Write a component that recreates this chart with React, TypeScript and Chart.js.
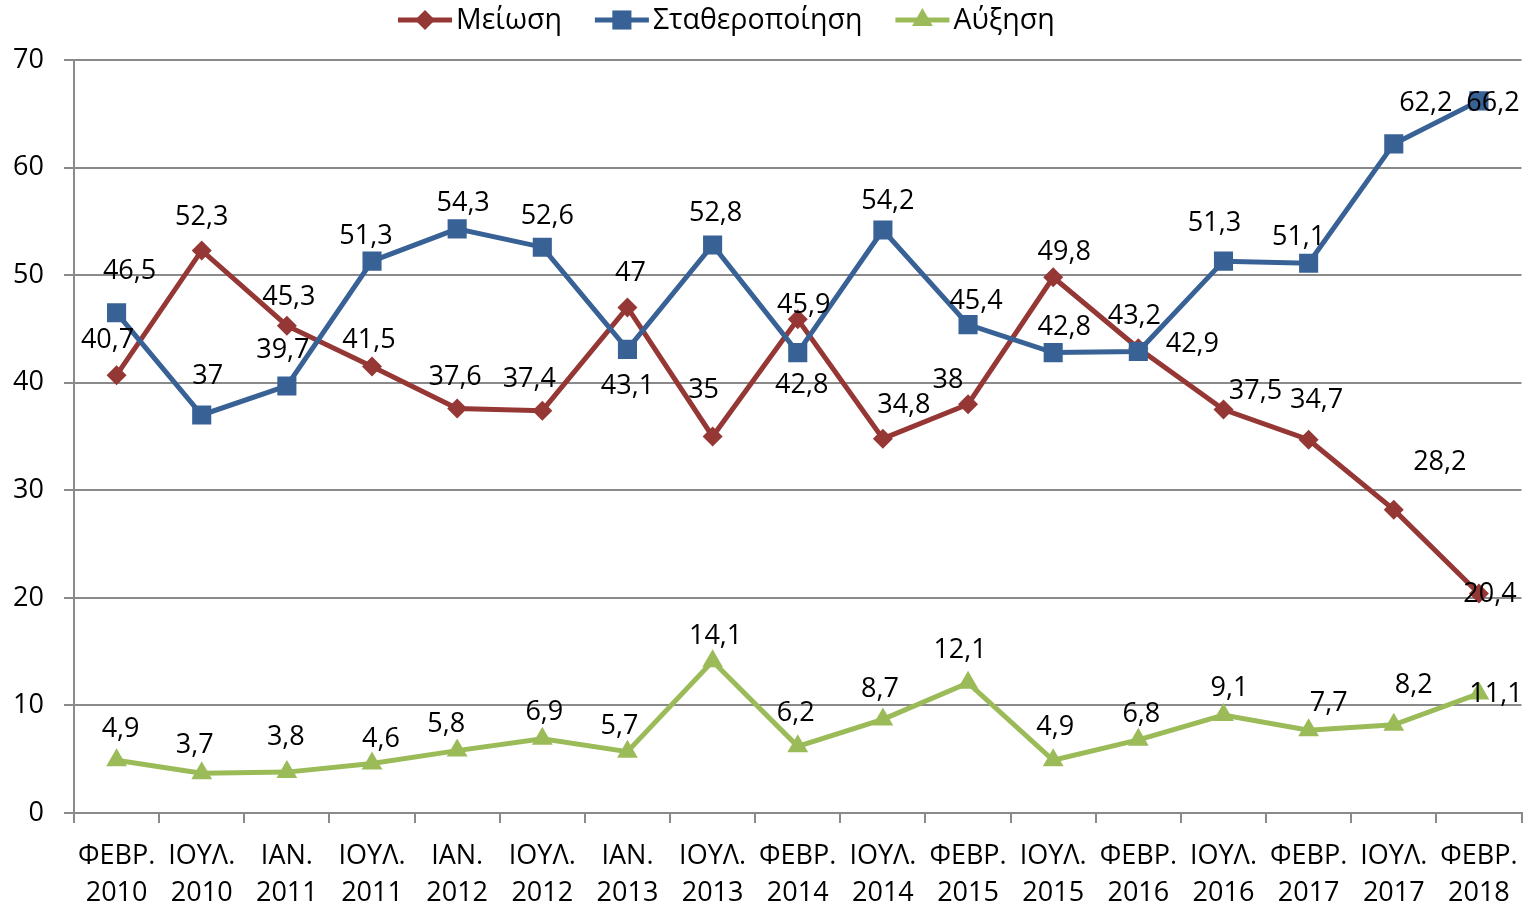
import React, { useEffect, useRef } from "react";
import { Chart, registerables } from "chart.js";

Chart.register(...registerables);

// ---- data ----
const categories: string[][] = [
  ["ΦΕΒΡ.", "2010"], ["ΙΟΥΛ.", "2010"], ["ΙΑΝ.", "2011"], ["ΙΟΥΛ.", "2011"],
  ["ΙΑΝ.", "2012"], ["ΙΟΥΛ.", "2012"], ["ΙΑΝ.", "2013"], ["ΙΟΥΛ.", "2013"],
  ["ΦΕΒΡ.", "2014"], ["ΙΟΥΛ.", "2014"], ["ΦΕΒΡ.", "2015"], ["ΙΟΥΛ.", "2015"],
  ["ΦΕΒΡ.", "2016"], ["ΙΟΥΛ.", "2016"], ["ΦΕΒΡ.", "2017"], ["ΙΟΥΛ.", "2017"],
  ["ΦΕΒΡ.", "2018"],
];

const seriesNames = ["Μείωση", "Σταθεροποίηση", "Αύξηση"];

const meiosi = [40.7, 52.3, 45.3, 41.5, 37.6, 37.4, 47, 35, 45.9, 34.8, 38, 49.8, 43.2, 37.5, 34.7, 28.2, 20.4];
const statheropoiisi = [46.5, 37, 39.7, 51.3, 54.3, 52.6, 43.1, 52.8, 42.8, 54.2, 45.4, 42.8, 42.9, 51.3, 51.1, 62.2, 66.2];
const afxisi = [4.9, 3.7, 3.8, 4.6, 5.8, 6.9, 5.7, 14.1, 6.2, 8.7, 12.1, 4.9, 6.8, 9.1, 7.7, 8.2, 11.1];

const yTicks = [0, 10, 20, 30, 40, 50, 60, 70];

// ---- styles ----
const colors = ["#953735", "#386196", "#9BBB59"];
const pointStyles = ["rectRot", "rect", "triangle"];
const pointRadii = [10, 13.5, 12];
const FONT = '"Open Sans", "Noto Sans", sans-serif';

// label offsets (px) relative to each point, per series
const redLabelOffsets = [
  [-9, -35], [0, -33], [2, -28], [-3, -26], [-2, -31], [-13, -31], [3, -34], [-9, -46],
  [6, -14], [21, -33], [-20, -24], [11, -25], [-4, -32], [32, -18], [8, -39], [46, -47], [11, 1],
];
const blueLabelOffsets = [
  [13, -41], [6, -39], [-4, -36], [-6, -25], [6, -26], [5, -31], [0, 37], [3, -32],
  [4, 33], [5, -29], [8, -23], [11, -25], [54, -7], [-9, -38], [-10, -26], [32, -41], [14, 2],
];
const greenLabelOffsets = [
  [4, -31], [-7, -28], [-1, -35], [9, -24], [-11, -26], [2, -26], [-8, -25], [3, -25],
  [-2, -33], [-3, -30], [-8, -33], [2, -33], [3, -26], [6, -27], [20, -27], [20, -39], [17, 1],
];
const labelOffsets = [redLabelOffsets, blueLabelOffsets, greenLabelOffsets];

const fmt = (v: number) => String(v).replace(".", ",");

function drawMarker(ctx: CanvasRenderingContext2D, style: string, x: number, y: number, r: number, color: string) {
  ctx.save();
  ctx.fillStyle = color;
  ctx.beginPath();
  if (style === "rectRot") {
    ctx.moveTo(x, y - r);
    ctx.lineTo(x + r, y);
    ctx.lineTo(x, y + r);
    ctx.lineTo(x - r, y);
  } else if (style === "rect") {
    const s = Math.SQRT1_2 * r;
    ctx.rect(x - s, y - s, 2 * s, 2 * s);
  } else {
    ctx.moveTo(x, y - r);
    ctx.lineTo(x + r * Math.sin((2 * Math.PI) / 3), y + r / 2);
    ctx.lineTo(x - r * Math.sin((2 * Math.PI) / 3), y + r / 2);
  }
  ctx.closePath();
  ctx.fill();
  ctx.restore();
}

const customPlugin = {
  id: "customLabelsLegend",
  afterDatasetsDraw(chart: any) {
    const ctx = chart.ctx as CanvasRenderingContext2D;
    ctx.save();
    ctx.font = `27px ${FONT}`;
    ctx.fillStyle = "#000";
    ctx.textAlign = "center";
    ctx.textBaseline = "middle";
    chart.data.datasets.forEach((ds: any, di: number) => {
      const meta = chart.getDatasetMeta(di);
      const offs = labelOffsets[di];
      meta.data.forEach((pt: any, i: number) => {
        const v = ds.data[i];
        ctx.fillText(fmt(v), pt.x + offs[i][0], pt.y + offs[i][1]);
      });
    });
    ctx.restore();
  },
  afterDraw(chart: any) {
    const ctx = chart.ctx as CanvasRenderingContext2D;
    ctx.save();
    ctx.font = `28.5px ${FONT}`;
    ctx.textAlign = "left";
    ctx.textBaseline = "middle";
    let x = 398;
    const y = 20;
    seriesNames.forEach((name, i) => {
      ctx.strokeStyle = colors[i];
      ctx.lineWidth = 5;
      ctx.beginPath();
      ctx.moveTo(x, y);
      ctx.lineTo(x + 54, y);
      ctx.stroke();
      drawMarker(ctx, pointStyles[i], x + 27, y, pointRadii[i], colors[i]);
      ctx.fillStyle = "#000";
      ctx.fillText(name, x + 58, y + 1);
      const w = ctx.measureText(name).width;
      x = x + 58 + w + 33;
    });
    ctx.restore();
  },
};

export default function App() {
  const canvasRef = useRef<HTMLCanvasElement | null>(null);

  useEffect(() => {
    if (!canvasRef.current) return;
    const seriesData = [meiosi, statheropoiisi, afxisi];
    const chart = new Chart(canvasRef.current, {
      type: "line",
      data: {
        labels: categories,
        datasets: seriesNames.map((name, i) => ({
          label: name,
          data: seriesData[i],
          borderColor: colors[i],
          backgroundColor: colors[i],
          borderWidth: 5,
          pointStyle: pointStyles[i] as any,
          pointRadius: pointRadii[i],
          pointHoverRadius: pointRadii[i],
          pointBackgroundColor: colors[i],
          pointBorderColor: colors[i],
          pointBorderWidth: 0,
          tension: 0,
          fill: false,
          order: 3 - i,
        })),
      },
      options: {
        responsive: false,
        animation: false,
        events: [],
        layout: { padding: { top: 60, right: 12, left: 0, bottom: 0 } },
        plugins: {
          legend: { display: false },
          tooltip: { enabled: false },
          title: { display: false },
        },
        scales: {
          x: {
            type: "category",
            offset: true,
            grid: {
              offset: true,
              drawOnChartArea: false,
              drawTicks: true,
              tickLength: 10,
              color: "#8a8a8a",
              lineWidth: 2,
            },
            border: { display: true, color: "#8a8a8a", width: 2 },
            ticks: {
              color: "#000",
              font: { family: FONT, size: 27, lineHeight: 1.36 },
              padding: 15,
              maxRotation: 0,
              minRotation: 0,
              autoSkip: false,
            },
            afterFit: (scale: any) => {
              scale.height = 95;
            },
          },
          y: {
            min: 0,
            max: 70,
            afterBuildTicks: (scale: any) => {
              scale.ticks = yTicks.map((v) => ({ value: v }));
            },
            grid: {
              color: "#8a8a8a",
              lineWidth: 2,
              drawTicks: true,
              tickLength: 10,
            },
            border: { display: true, color: "#8a8a8a", width: 2 },
            ticks: {
              color: "#000",
              font: { family: FONT, size: 27 },
              padding: 20,
            },
            afterFit: (scale: any) => {
              scale.width = 74;
            },
          },
        },
      },
      plugins: [customPlugin],
    });
    return () => chart.destroy();
  }, []);

  return (
    <div style={{ position: "fixed", left: 0, top: 0, width: 1535, height: 908, background: "#fff" }}>
      <canvas ref={canvasRef} width={1535} height={908} style={{ display: "block" }} />
    </div>
  );
}
